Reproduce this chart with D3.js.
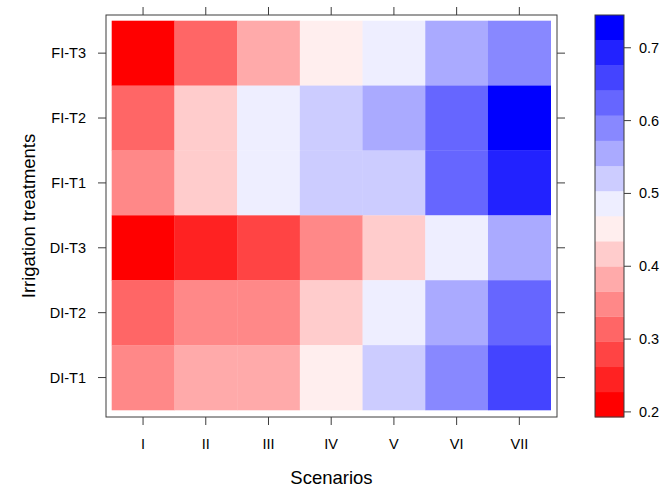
<!DOCTYPE html>
<html>
<head>
<meta charset="utf-8">
<script src="https://cdn.jsdelivr.net/npm/d3@7"></script>
<style>
  body { margin: 0; background: #fff; }
  text { font-family: "Liberation Sans", Arial, sans-serif; fill: #000; }
</style>
</head>
<body>
<div id="main"></div>
<script>
// Scenarios (columns) and irrigation treatments (rows, top to bottom)
const scenarios = ["I", "II", "III", "IV", "V", "VI", "VII"];
const treatments = ["FI-T3", "FI-T2", "FI-T1", "DI-T3", "DI-T2", "DI-T1"];

// values per treatment, one per scenario
const valFIT3 = [0.193, 0.31, 0.38, 0.45, 0.49, 0.55, 0.59];
const valFIT2 = [0.31, 0.42, 0.49, 0.52, 0.56, 0.62, 0.745];
const valFIT1 = [0.35, 0.42, 0.49, 0.52, 0.52, 0.62, 0.69];
const valDIT3 = [0.20, 0.245, 0.28, 0.35, 0.42, 0.49, 0.555];
const valDIT2 = [0.31, 0.35, 0.35, 0.42, 0.49, 0.55, 0.62];
const valDIT1 = [0.35, 0.38, 0.38, 0.45, 0.52, 0.59, 0.66];

const colorbarTicks = [0.2, 0.3, 0.4, 0.5, 0.6, 0.7];
const nLevels = 16;

const ctx = {
    WIDTH: 664,
    HEIGHT: 488
};

function drawChart() {
  const svg = d3.select("#main").append("svg")
      .attr("width", ctx.WIDTH)
      .attr("height", ctx.HEIGHT);

  const rows = [valFIT3, valFIT2, valFIT1, valDIT3, valDIT2, valDIT1];
  const cells = [];
  rows.forEach((r, i) => r.forEach((v, j) => cells.push({t: treatments[i], s: scenarios[j], v: v})));

  // panel box and cell area
  const box = {x0: 106, x1: 557, y0: 15, y1: 417};
  const x = d3.scaleBand().domain(scenarios).range([111.7, 550.7]);
  const y = d3.scaleBand().domain(treatments).range([20.7, 410]);

  const allVals = rows.flat();
  const extent = d3.extent(allVals);
  const palette = d3.quantize(d3.piecewise(d3.interpolateRgb, ["red", "white", "blue"]), nLevels);
  const color = d3.scaleQuantize().domain(extent).range(palette);

  svg.append("g").selectAll("rect")
      .data(cells)
      .join("rect")
      .attr("x", d => x(d.s))
      .attr("y", d => y(d.t))
      .attr("width", x.bandwidth() + 0.3)
      .attr("height", y.bandwidth() + 0.3)
      .attr("fill", d => color(d.v));

  svg.append("rect")
      .attr("x", box.x0).attr("y", box.y0)
      .attr("width", box.x1 - box.x0).attr("height", box.y1 - box.y0)
      .attr("fill", "none").attr("stroke", "#3c3c3c");

  const tick = 8;
  const xc = d => x(d) + x.bandwidth() / 2;
  const yc = d => y(d) + y.bandwidth() / 2;

  // x ticks, bottom and top
  const gx = svg.append("g").attr("stroke", "#3c3c3c");
  scenarios.forEach(s => {
    gx.append("line").attr("x1", xc(s)).attr("x2", xc(s)).attr("y1", box.y1).attr("y2", box.y1 + tick);
    gx.append("line").attr("x1", xc(s)).attr("x2", xc(s)).attr("y1", box.y0).attr("y2", box.y0 - tick);
  });
  svg.append("g").selectAll("text")
      .data(scenarios)
      .join("text")
      .attr("x", d => xc(d))
      .attr("y", 449)
      .attr("text-anchor", "middle")
      .style("font-size", "14.5px")
      .text(d => d);

  // y ticks, left and right
  const gy = svg.append("g").attr("stroke", "#3c3c3c");
  treatments.forEach(t => {
    gy.append("line").attr("y1", yc(t)).attr("y2", yc(t)).attr("x1", box.x0).attr("x2", box.x0 - tick);
    gy.append("line").attr("y1", yc(t)).attr("y2", yc(t)).attr("x1", box.x1).attr("x2", box.x1 + tick);
  });
  svg.append("g").selectAll("text")
      .data(treatments)
      .join("text")
      .attr("x", 86)
      .attr("y", d => yc(d))
      .attr("dy", "0.35em")
      .attr("text-anchor", "end")
      .style("font-size", "14.5px")
      .text(d => d);

  // axis titles
  svg.append("text")
      .attr("x", (box.x0 + box.x1) / 2)
      .attr("y", 484)
      .attr("text-anchor", "middle")
      .style("font-size", "18.5px")
      .text("Scenarios");
  svg.append("text")
      .attr("transform", `translate(35,${(box.y0 + box.y1) / 2}) rotate(-90)`)
      .attr("text-anchor", "middle")
      .style("font-size", "18.5px")
      .text("Irrigation treatments");

  // colour key
  const key = {x0: 595, x1: 624};
  const ky = d3.scaleLinear().domain(extent).range([box.y1, box.y0]);
  const step = (extent[1] - extent[0]) / nLevels;
  const bins = d3.range(nLevels).map(i => ({lo: extent[0] + i * step, hi: extent[0] + (i + 1) * step, c: palette[i]}));
  svg.append("g").selectAll("rect")
      .data(bins)
      .join("rect")
      .attr("x", key.x0)
      .attr("width", key.x1 - key.x0)
      .attr("y", d => ky(d.hi))
      .attr("height", d => ky(d.lo) - ky(d.hi) + 0.3)
      .attr("fill", d => d.c);
  svg.append("rect")
      .attr("x", key.x0).attr("y", box.y0)
      .attr("width", key.x1 - key.x0).attr("height", box.y1 - box.y0)
      .attr("fill", "none").attr("stroke", "#3c3c3c");

  const gk = svg.append("g");
  gk.selectAll("line")
      .data(colorbarTicks)
      .join("line")
      .attr("x1", key.x1).attr("x2", key.x1 + 7)
      .attr("y1", d => ky(d)).attr("y2", d => ky(d))
      .attr("stroke", "#3c3c3c");
  gk.selectAll("text")
      .data(colorbarTicks)
      .join("text")
      .attr("x", 639)
      .attr("y", d => ky(d))
      .attr("dy", "0.35em")
      .style("font-size", "14.5px")
      .text(d => d3.format(".1f")(d));
}

drawChart();
</script>
</body>
</html>
